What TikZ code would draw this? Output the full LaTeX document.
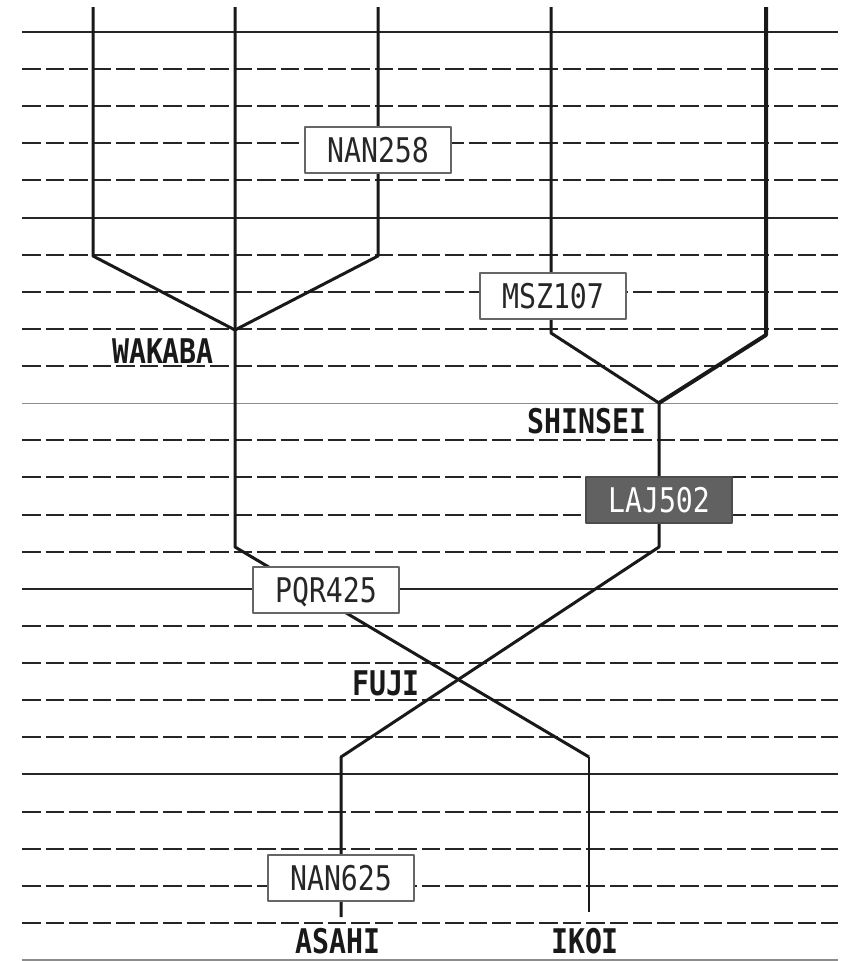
\documentclass[tikz,border=0pt]{standalone}
\usepackage{fontspec}
\newfontfamily\trainfont[FakeStretch=0.83]{DejaVu Sans Mono}
\usepackage{tikz}
\usetikzlibrary{positioning}

\begin{document}
\begin{tikzpicture}[x=1pt,y=-1pt,line join=round,
  route/.style={line width=3pt,black!90},
  gridsolid/.style={line width=2pt,black!85},
  gridthin/.style={line width=1.3pt,black!45},
  griddash/.style={line width=2pt,black!85,dash pattern=on 18.5pt off 5pt},
  trainbox/.style={draw=black!60,line width=1.3pt,fill=white,minimum width=146pt,minimum height=46pt,
    inner sep=0pt,text height=25pt,text depth=0pt,font=\trainfont\fontsize{34}{36}\selectfont,text=black!85},
  trainbox dark/.style={trainbox,fill=black!62,draw=black!70,text=white},
  stationlbl/.style={inner sep=0pt,anchor=base,font=\trainfont\bfseries\fontsize{34}{36}\selectfont,text=black!90}]
\useasboundingbox (0,0) rectangle (847,961);
% time grid
\foreach \i in {1,2,3,4,6,7,8,9,11,12,13,14,16,17,18,19,21,22,23,24}
  \draw[griddash] (22,{32+\i*37.12}) -- (838,{32+\i*37.12});
\foreach \i in {0,5,15,20}
  \draw[gridsolid] (22,{32+\i*37.12}) -- (838,{32+\i*37.12});
\foreach \i in {10,25}
  \draw[gridthin] (22,{32+\i*37.12}) -- (838,{32+\i*37.12});
% branch points
\coordinate (w1t) at (93,7);   \coordinate (w1b) at (93,256);
\coordinate (w2t) at (235,7);
\coordinate (w3t) at (378,7);  \coordinate (w3b) at (378,256);
\coordinate (wak) at (235,330); \coordinate (wakb) at (235,547);
\coordinate (s1t) at (551,7);  \coordinate (s1b) at (551,333);
\coordinate (s2t) at (766,7);  \coordinate (s2b) at (766,335);
\coordinate (shi) at (659,403); \coordinate (shib) at (659,547);
\coordinate (asa) at (341,757); \coordinate (asab) at (341,917);
\coordinate (iko) at (589,757); \coordinate (ikob) at (589,912);
% routes
\draw[route] (w1t) -- (w1b) -- (wak);
\draw[route] (w3t) -- (w3b) -- (wak);
\draw[route] (w2t) -- (wak) -- (wakb) -- (iko);
\draw[route,line width=2pt] (iko) -- (ikob);
\draw[route] (s1t) -- (s1b) -- (shi);
\draw[route,line width=4pt] (s2t) -- (s2b) -- (shi);
\draw[route] (shi) -- (shib) -- (asa) -- (asab);
% trains
\node[trainbox] (nan258) at (378,150) {NAN258};
\node[trainbox] (msz107) at (553,296) {MSZ107};
\node[trainbox dark] (laj502) at (659,500) {LAJ502};
\node[trainbox] (pqr425) at (326,590) {PQR425};
\node[trainbox] (nan625) at (341,878) {NAN625};
% stations
\node[stationlbl] (wakaba) at (163,363) {WAKABA};
\node[stationlbl] (shinsei) at (587,433) {SHINSEI};
\node[stationlbl] (fuji) at (386,695) {FUJI};
\node[stationlbl] (asahi) at (338,953) {ASAHI};
\node[stationlbl] (ikoi) at (585,953) {IKOI};
\end{tikzpicture}
\end{document}
